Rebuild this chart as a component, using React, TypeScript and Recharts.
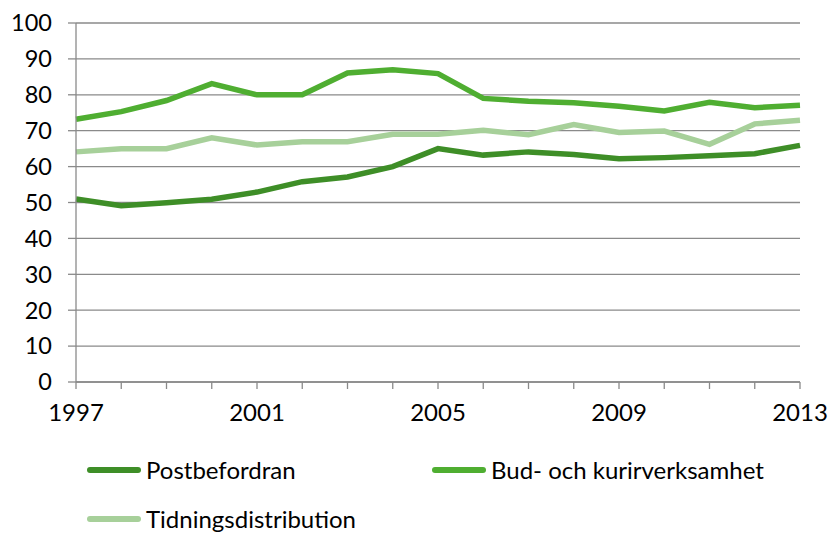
import React from "react";
import { LineChart, Line, XAxis, YAxis, CartesianGrid, Legend } from "recharts";

const years = [1997, 1998, 1999, 2000, 2001, 2002, 2003, 2004, 2005, 2006, 2007, 2008, 2009, 2010, 2011, 2012, 2013];
const postbefordran = [51, 49.1, 49.9, 50.9, 52.9, 55.8, 57.1, 60, 65, 63.2, 64.1, 63.4, 62.2, 62.5, 63, 63.6, 65.9];
const budKurir = [73.2, 75.3, 78.4, 83.1, 80, 80, 86.1, 87, 85.9, 79, 78.2, 77.8, 76.8, 75.5, 77.9, 76.4, 77.1];
const tidning = [64.1, 65, 65, 68, 66, 66.9, 66.9, 69, 69, 70.1, 68.9, 71.7, 69.5, 69.9, 66.2, 71.9, 72.9];
const xTickLabels = [1997, 2001, 2005, 2009, 2013];
const yTicks = [0, 10, 20, 30, 40, 50, 60, 70, 80, 90, 100];

const seriesNames = ["Postbefordran", "Bud- och kurirverksamhet", "Tidningsdistribution"];
const seriesColors = ["#3e8e27", "#4fae31", "#a7d09a"];

const data = years.map((y, i) => ({
  year: y,
  post: postbefordran[i],
  bud: budKurir[i],
  tid: tidning[i],
}));

const FONT = "Lato, 'Liberation Sans', sans-serif";
const GRID = "#8a8a8a";

const legendPos = [
  { left: 87, top: 38 },
  { left: 432, top: 38 },
  { left: 87, top: 87 },
];

const renderLegend = () => (
  <div style={{ position: "relative", width: 828, height: 101, fontFamily: FONT }}>
    {seriesNames.map((name, i) => (
      <div
        key={name}
        style={{
          position: "absolute",
          left: legendPos[i].left,
          top: legendPos[i].top,
          transform: "translateY(-50%)",
          display: "flex",
          alignItems: "center",
        }}
      >
        <div style={{ width: 54, height: 6, borderRadius: 3, background: seriesColors[i], marginRight: 5 }} />
        <span style={{ fontSize: 24, color: "#000", lineHeight: "20px" }}>{name}</span>
      </div>
    ))}
  </div>
);

export default function App() {
  return (
    <div style={{ position: "absolute", left: 0, top: 0, width: 828, height: 533, background: "#fff" }}>
      <LineChart width={828} height={533} data={data} margin={{ top: 23, right: 28, left: 0, bottom: 0 }}>
        <CartesianGrid vertical={false} stroke={GRID} strokeWidth={1.3} />
        <XAxis
          dataKey="year"
          type="category"
          interval={0}
          height={50}
          tickSize={7}
          tickMargin={15}
          stroke={GRID}
          strokeWidth={1.3}
          tickLine={{ stroke: GRID }}
          tick={{ fill: "#000", fontSize: 24, fontFamily: FONT }}
          tickFormatter={(v) => (xTickLabels.includes(Number(v)) ? String(v) : "")}
        />
        <YAxis
          domain={[0, 100]}
          ticks={yTicks}
          width={76}
          tickSize={8}
          tickMargin={16}
          stroke={GRID}
          strokeWidth={1.3}
          tick={{ fill: "#000", fontSize: 23.5, fontFamily: FONT }}
          interval={0}
        />
        <Legend verticalAlign="bottom" content={renderLegend} wrapperStyle={{ left: 0, width: 828, height: 101 }} />
        <Line dataKey="post" name={seriesNames[0]} stroke={seriesColors[0]} strokeWidth={5.5} dot={false} isAnimationActive={false} />
        <Line dataKey="bud" name={seriesNames[1]} stroke={seriesColors[1]} strokeWidth={5.5} dot={false} isAnimationActive={false} />
        <Line dataKey="tid" name={seriesNames[2]} stroke={seriesColors[2]} strokeWidth={5.5} dot={false} isAnimationActive={false} />
      </LineChart>
    </div>
  );
}
